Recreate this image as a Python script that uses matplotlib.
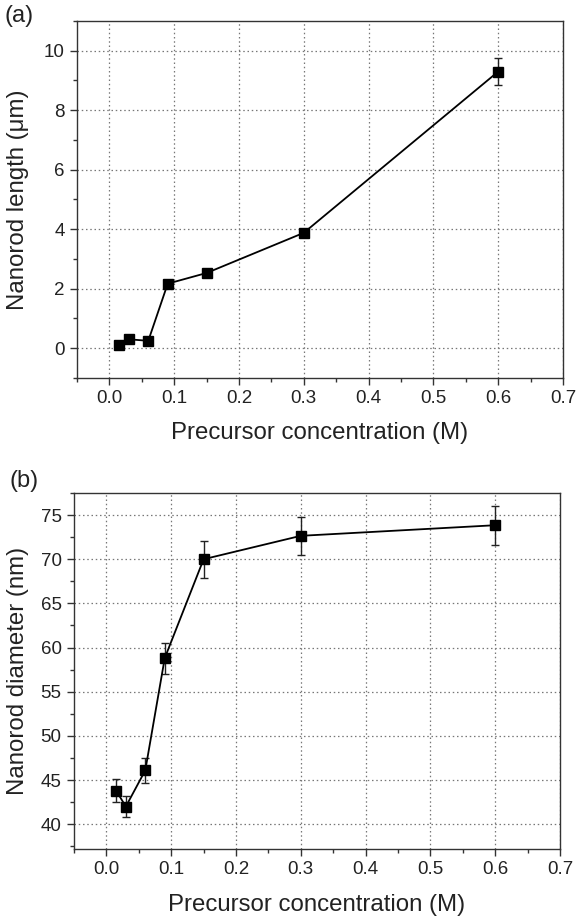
import matplotlib
matplotlib.use("Agg")
import matplotlib.pyplot as plt
from matplotlib.ticker import MultipleLocator

plt.rcParams['font.family'] = ['Liberation Sans', 'DejaVu Sans']

# Precursor concentration (M)
concentration = [0.015, 0.03, 0.06, 0.09, 0.15, 0.3, 0.6]

# (a) nanorod length (um) and its error
length = [0.10, 0.30, 0.25, 2.17, 2.53, 3.88, 9.30]
length_err = [0.05, 0.05, 0.05, 0.08, 0.08, 0.12, 0.46]

# (b) nanorod diameter (nm) and its error
diameter = [43.8, 42.0, 46.1, 58.8, 70.0, 72.65, 73.85]
diameter_err = [1.3, 1.2, 1.4, 1.75, 2.1, 2.15, 2.2]

x_ticks = [0.0, 0.1, 0.2, 0.3, 0.4, 0.5, 0.6, 0.7]
x_ticklabels = ["0.0", "0.1", "0.2", "0.3", "0.4", "0.5", "0.6", "0.7"]

fig = plt.figure(figsize=(5.76, 9.17), dpi=100)
ax_a = fig.add_axes([0.1337, 0.5878, 0.8437, 0.3893])
ax_b = fig.add_axes([0.1285, 0.0742, 0.8437, 0.3882])

spine_col = '#333333'
text_col = '#222222'
label_size = 17.3
tick_size = 13.5


def style(ax, ymajor, yminor):
    ax.set_xlim(-0.05, 0.7)
    ax.set_xticks(x_ticks)
    ax.set_xticklabels(x_ticklabels)
    ax.xaxis.set_minor_locator(MultipleLocator(0.05))
    ax.yaxis.set_major_locator(MultipleLocator(ymajor))
    ax.yaxis.set_minor_locator(MultipleLocator(yminor))
    ax.tick_params(which='major', direction='out', length=5, width=1,
                   color=spine_col, labelsize=tick_size, labelcolor=text_col,
                   pad=4)
    ax.tick_params(which='minor', direction='out', length=3, width=1,
                   color=spine_col)
    ax.tick_params(which='both', top=False, right=False)
    for s in ax.spines.values():
        s.set_color(spine_col)
        s.set_linewidth(1.0)
    ax.grid(True, which='major', linestyle=(0, (1.2, 2.2)), color='#777777',
            linewidth=0.9)
    ax.set_axisbelow(True)


def draw(ax, y, yerr):
    ax.errorbar(concentration, y, yerr=yerr, fmt='-s', color='black',
                markersize=7, linewidth=1.3, elinewidth=1.0, capsize=3,
                capthick=1.0, ecolor='#222222', zorder=3)


# Panel (a)
draw(ax_a, length, length_err)
style(ax_a, 2, 1)
ax_a.set_ylim(-1, 11)
ax_a.set_xlabel("Precursor concentration (M)", fontsize=label_size,
                color=text_col)
ax_a.set_ylabel("Nanorod length (\u03bcm)", fontsize=label_size,
                color=text_col)
ax_a.xaxis.set_label_coords(0.5, -0.154)
ax_a.xaxis.label.set_va('center')
ax_a.yaxis.set_label_coords(-0.121, 0.5)
ax_a.yaxis.label.set_va('center')

# Panel (b)
draw(ax_b, diameter, diameter_err)
style(ax_b, 5, 2.5)
ax_b.set_ylim(37.2, 77.5)
ax_b.set_xlabel("Precursor concentration (M)", fontsize=label_size,
                color=text_col)
ax_b.set_ylabel("Nanorod diameter (nm)", fontsize=label_size,
                color=text_col)
ax_b.xaxis.set_label_coords(0.5, -0.157)
ax_b.xaxis.label.set_va('center')
ax_b.yaxis.set_label_coords(-0.115, 0.5)
ax_b.yaxis.label.set_va('center')

fig.text(0.008, 0.995, "(a)", fontsize=17, va='top', ha='left', color=text_col)
fig.text(0.017, 0.487, "(b)", fontsize=17, va='top', ha='left', color=text_col)

fig.savefig("out.png", dpi=100)
